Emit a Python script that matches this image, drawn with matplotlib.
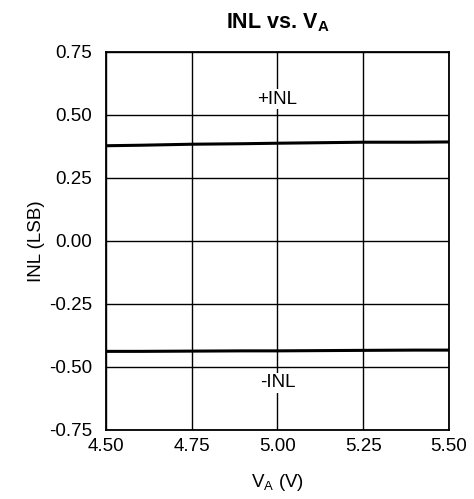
import matplotlib
matplotlib.use("Agg")
import matplotlib.pyplot as plt

plt.rcParams["font.family"] = ["Liberation Sans", "DejaVu Sans"]
plt.rcParams["mathtext.fontset"] = "custom"
plt.rcParams["mathtext.rm"] = "Liberation Sans"
plt.rcParams["mathtext.bf"] = "Liberation Sans:bold"

# --- data ---
va = [4.50, 4.60, 4.75, 4.90, 5.00, 5.25, 5.40, 5.50]
inl_pos = [0.378, 0.380, 0.384, 0.386, 0.388, 0.392, 0.392, 0.393]
inl_neg = [-0.438, -0.438, -0.437, -0.436, -0.436, -0.434, -0.433, -0.433]

x_ticks = [4.50, 4.75, 5.00, 5.25, 5.50]
y_ticks = [0.75, 0.50, 0.25, 0.00, -0.25, -0.50, -0.75]

FS = 13.5

fig = plt.figure(figsize=(4.74, 4.99), dpi=100)
ax = fig.add_axes([0.2236, 0.1383, 0.7236, 0.7575])

ax.plot(va, inl_pos, color="black", linewidth=2.2, zorder=3)
ax.plot(va, inl_neg, color="black", linewidth=2.2, zorder=3)

ax.set_xlim(4.5, 5.5)
ax.set_ylim(-0.75, 0.75)
ax.set_xticks(x_ticks)
ax.set_xticklabels([f"{v:.2f}" for v in x_ticks])
ax.set_yticks(y_ticks)
ax.set_yticklabels([f"{v:.2f}" for v in y_ticks])
ax.tick_params(axis="x", length=0, labelsize=FS, pad=6)
ax.tick_params(axis="y", length=0, labelsize=FS, pad=10)
ax.grid(True, color="black", linewidth=1.0)
for s in ax.spines.values():
    s.set_linewidth(1.3)

bbox = dict(facecolor="white", edgecolor="none", pad=1)
ax.text(5.0, 0.563, "+INL", ha="center", va="center", fontsize=FS, bbox=bbox, zorder=4)
ax.text(5.0, -0.563, "-INL", ha="center", va="center", fontsize=FS, bbox=bbox, zorder=4)

ax.set_title(r"INL vs. V$_\mathbf{A}$", fontsize=15.5, fontweight="bold", pad=17)
ax.set_xlabel(r"V$_\mathrm{A}$ (V)", fontsize=FS, labelpad=12)
ax.set_ylabel("INL (LSB)", fontsize=FS, labelpad=3)

fig.savefig("out.png", dpi=100)
